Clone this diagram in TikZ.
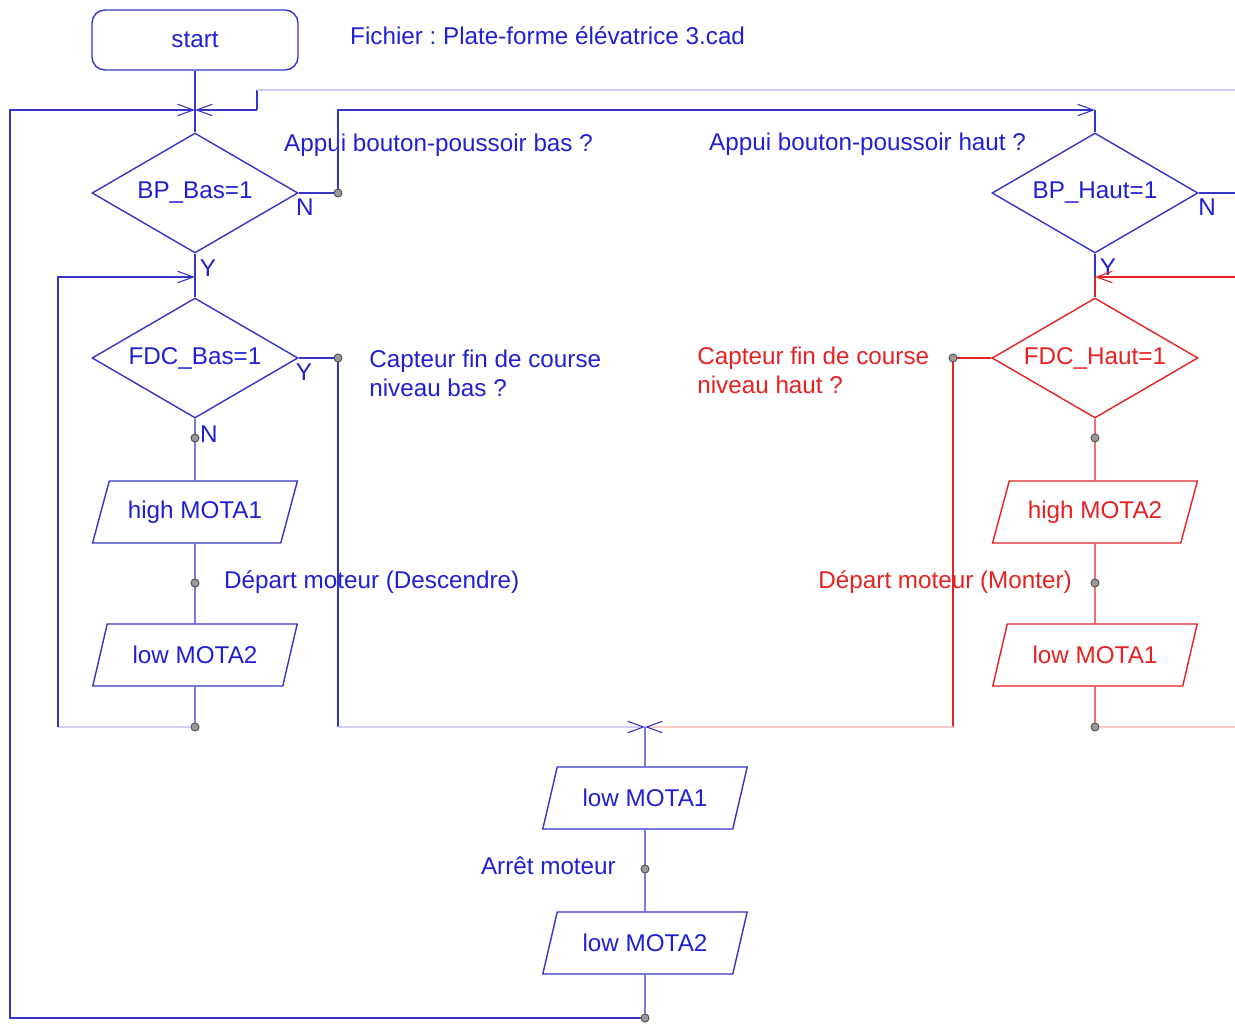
\documentclass[tikz,border=0pt]{standalone}
\usepackage{fontspec}
\setmainfont{Liberation Sans}
\usetikzlibrary{shapes.geometric, arrows.meta}
\definecolor{flow-blue}{RGB}{52,52,200}
\definecolor{text-blue}{RGB}{32,32,210}
\definecolor{flow-red}{RGB}{228,34,34}
\definecolor{pale-blue}{RGB}{205,205,245}
\definecolor{pale-red}{RGB}{250,200,200}
\frenchspacing

\begin{document}
\begin{tikzpicture}[x=0.02cm, y=-0.02cm,
      every node/.style={font=\fontsize{13.8}{16}\selectfont},
      line/.style={draw=flow-blue, line width=0.8pt},
      redline/.style={draw=flow-red, line width=0.8pt},
      paleline/.style={draw=pale-blue, line width=0.8pt},
      palered/.style={draw=pale-red, line width=0.8pt},
      into/.style={-{Straight Barb[length=9pt, width=6.5pt, line width=0.6pt, color=#1]}},
      into/.default=flow-blue,
      test/.style={diamond, draw, inner sep=0pt, aspect=1.72,
                   minimum width=4.12cm, minimum height=2.4cm},
      io/.style={trapezium, trapezium left angle=60, trapezium right angle=120,
                 trapezium stretches=true, draw, inner sep=0pt,
                 minimum width=4.12cm, minimum height=1.24cm},
      dot/.style={circle, draw=black!70, fill=black!40, inner sep=0pt, minimum size=4.5pt}]
    \useasboundingbox (0,0) rectangle (1235,1027);

    % start and title
    \node[line, text=text-blue, rounded corners=0.26cm, minimum width=4.12cm,
          minimum height=1.2cm] (start) at (195,40) {start};
    \node[text=text-blue, anchor=west] (file) at (344,36) {Fichier : Plate-forme élévatrice 3.cad};

    % junctions
    \coordinate (j1) at (195,110);
    \coordinate (j2) at (1095,110);
    \coordinate (j3) at (195,277);
    \coordinate (j4) at (1095,277);
    \coordinate (j5) at (645,727);

    % left column
    \node[test, line, text=text-blue] (bpbas) at (195,193) {BP\_Bas=1};
    \node[test, line, text=text-blue] (fdcbas) at (195,358) {FDC\_Bas=1};
    \node[io, line, text=text-blue] (high1) at (195,512) {high MOTA1};
    \node[io, line, text=text-blue] (low2) at (195,655) {low MOTA2};
    \node[dot] (n1) at (338,193) {};
    \node[dot] (n2) at (338,358) {};
    \node[dot] (a1) at (195,438) {};
    \node[dot] (a2) at (195,583) {};
    \node[dot] (a3) at (195,727) {};

    % right column
    \node[test, line, text=text-blue] (bphaut) at (1095,193) {BP\_Haut=1};
    \node[test, redline, text=flow-red] (fdchaut) at (1095,358) {FDC\_Haut=1};
    \node[io, redline, text=flow-red] (high2) at (1095,512) {high MOTA2};
    \node[io, redline, text=flow-red] (low1) at (1095,655) {low MOTA1};
    \node[dot] (n4) at (953,358) {};
    \node[dot] (b1) at (1095,438) {};
    \node[dot] (b2) at (1095,583) {};
    \node[dot] (b3) at (1095,727) {};

    % stop block
    \node[io, line, text=text-blue] (stop1) at (645,798) {low MOTA1};
    \node[io, line, text=text-blue] (stop2) at (645,943) {low MOTA2};
    \node[dot] (c1) at (645,869) {};
    \node[dot] (c2) at (645,1018) {};

    % comments
    \node[text=text-blue, anchor=west] (qbas) at (278,145) {Appui bouton-poussoir bas ?};
    \node[text=text-blue, anchor=west] (qhaut) at (703,144) {Appui bouton-poussoir haut ?};
    \node[text=text-blue, anchor=north west, align=left, inner sep=0pt] (cbas) at (369,350)
          {Capteur fin de course\\niveau bas ?};
    \node[text=flow-red, anchor=north west, align=left, inner sep=0pt] (chaut) at (697,347)
          {Capteur fin de course\\niveau haut ?};
    \node[text=text-blue, anchor=west] (down) at (218,582) {Départ moteur (Descendre)};
    \node[text=flow-red, anchor=east] (up) at (1078,582) {Départ moteur (Monter)};
    \node[text=text-blue, anchor=east] (halt) at (622,866) {Arrêt moteur};

    % branch letters
    \node[text=text-blue] (nbas) at (305,207) {N};
    \node[text=text-blue] (ybas) at (208,268) {Y};
    \node[text=text-blue] (yfdc) at (304,372) {Y};
    \node[text=text-blue] (nfdc) at (209,434) {N};
    \node[text=text-blue] (nhaut) at (1207,207) {N};
    \node[text=text-blue] (yhaut) at (1108,267) {Y};

    % left flow
    \draw[line] (start) -- (bpbas);
    \draw[line] (bpbas) -- (fdcbas);
    \draw[line] (fdcbas) -- (high1);
    \draw[line] (high1) -- (low2);
    \draw[line] (low2.south) -- (a3);
    \draw[line] (bpbas.east) -- (n1);
    \draw[line, into] (n1) |- (j2);
    \draw[line] (fdcbas.east) -- (n2);
    \draw[line] (n2) -- (338,727);
    \draw[paleline, into] (338,727) -- (j5);
    \draw[paleline] (a3) -- (58,727);
    \draw[line, into] (58,727) |- (j3);
    \coordinate (t1) at (257,110);
    \draw[line, into] (t1) -- (j1);
    \draw[line] (t1) -- (257,90);
    \draw[paleline] (257,90) -- (1235,90);

    % right flow
    \draw[line] (j2) -- (bphaut);
    \draw[line] (bphaut) -- (j4);
    \draw[line] (bphaut.east) -- (1235,193);
    \draw[redline] (j4) -- (fdchaut);
    \draw[redline, into=flow-red] (1235,277) -- (j4);
    \draw[redline] (fdchaut) -- (high2);
    \draw[redline] (high2) -- (low1);
    \draw[redline] (low1.south) -- (b3);
    \draw[palered] (b3) -- (1235,727);
    \draw[redline] (fdchaut.west) -- (n4);
    \draw[redline] (n4) -- (953,727);
    \draw[palered, into] (953,727) -- (j5);

    % stop and loop back
    \draw[line] (j5) -- (stop1);
    \draw[line] (stop1) -- (stop2);
    \draw[line] (stop2.south) -- (c2);
    \coordinate (lx) at (10,1018);
    \draw[line, into] (c2) -- (lx) |- (j1);

    \foreach \d in {n1,n2,a1,a2,a3,n4,b1,b2,b3,c1,c2}
      \node[dot] at (\d) {};
  \end{tikzpicture}
\end{document}
